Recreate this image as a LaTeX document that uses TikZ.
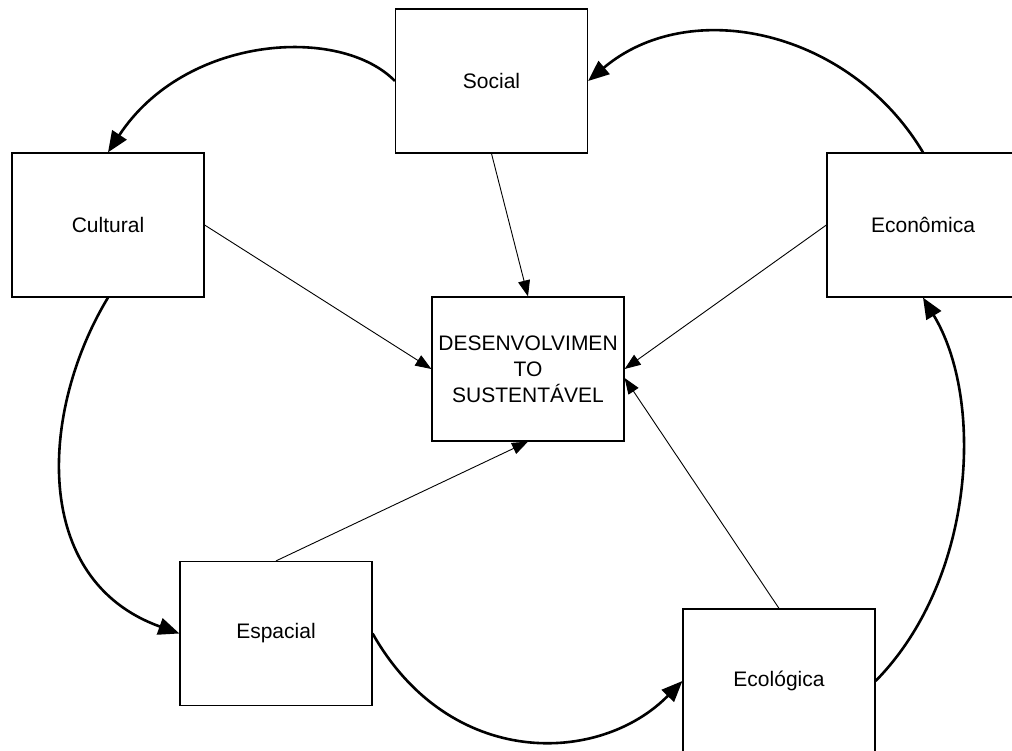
\documentclass[tikz,border=0pt]{standalone}
\usepackage{fontspec}
\setmainfont{Liberation Sans}
\usetikzlibrary{arrows.meta}

\tikzset{
    caixa/.style={draw, line width=1.2pt, minimum width=192pt, minimum height=144pt, inner sep=0pt, align=center, font=\fontsize{21}{26}\selectfont},
    ciclo/.style={line width=2.6pt, -{Triangle[length=21pt,width=17pt]}},
    fluxo/.style={line width=0.9pt, -{Triangle[length=16pt,width=12pt]}}
}

\begin{document}
\begin{tikzpicture}[x=1pt, y=-1pt]
        \useasboundingbox (0,0) rectangle (1012,751);
        \node[caixa] (social) at (491.5,81) {Social};
        \node[caixa] (cultural) at (108,225) {Cultural};
        \node[caixa] (economica) at (923,225) {Econômica};
        \node[caixa] (centro) at (528,369) {DESENVOLVIMEN\\TO\\SUSTENTÁVEL};
        \node[caixa] (espacial) at (276,633.5) {Espacial};
        \node[caixa] (ecologica) at (779,681) {Ecológica};
        % ciclo externo
        \draw[ciclo] (social.west) .. controls (340,25) and (185,35) .. (cultural.north);
        \draw[ciclo] (economica.north) .. controls (850,30) and (690,-5) .. (social.east);
        \draw[ciclo] (cultural.south) .. controls (40,410) and (30,580) .. (espacial.west);
        \draw[ciclo] (espacial.east) .. controls (450,770) and (600,765) .. (ecologica.west);
        \draw[ciclo] (ecologica.east) .. controls (975,580) and (985,400) .. (economica.south);
        % setas para o centro
        \draw[fluxo] (social.south) -- (centro.north);
        \draw[fluxo] (cultural.east) -- (centro.west);
        \draw[fluxo] (economica.west) -- (centro.east);
        \draw[fluxo] (ecologica.north) -- ([yshift=-9pt]centro.east);
        \draw[fluxo] (espacial.north) -- (centro.south);
    \end{tikzpicture}
\end{document}
